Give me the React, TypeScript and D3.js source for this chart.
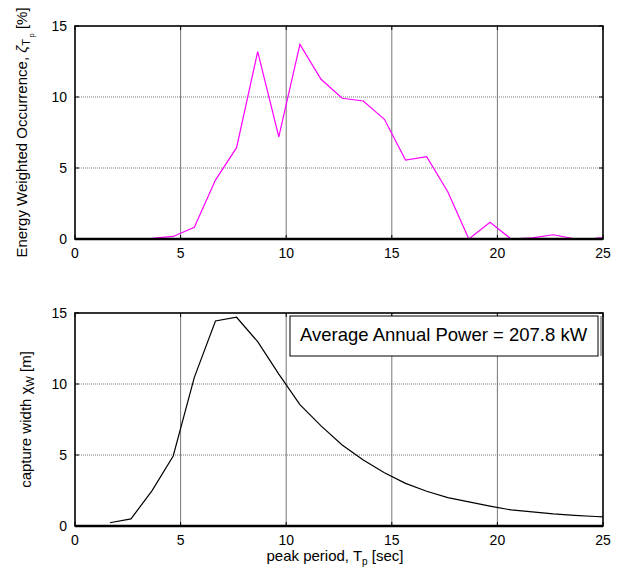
import * as d3 from 'd3';
import { useEffect, useRef } from 'react';

// peak period bins [s]
const periods = [
  1.65, 2.65, 3.65, 4.65, 5.65, 6.65, 7.65, 8.65, 9.65, 10.65, 11.65, 12.65, 13.65,
  14.65, 15.65, 16.65, 17.65, 18.65, 19.65, 20.65, 21.65, 22.65, 23.65, 24.65, 25.65,
];
// energy weighted occurrence [%]
const occurrence = [
  0, 0, 0.05, 0.18, 0.82, 4.15, 6.43, 13.19, 7.2, 13.71, 11.25, 9.91, 9.72, 8.43, 5.56,
  5.8, 3.33, 0, 1.17, 0, 0.08, 0.3, 0.02, 0.05, 0.2,
];
// capture width [m]
const captureWidth = [
  0.23, 0.5, 2.49, 4.93, 10.47, 14.44, 14.7, 12.98, 10.7, 8.55, 7.05, 5.7, 4.65, 3.75,
  3.0, 2.45, 2.0, 1.7, 1.4, 1.13, 1.0, 0.85, 0.75, 0.67, 0.6,
];
const xTicks = [0, 5, 10, 15, 20, 25];
const yTicks = [0, 5, 10, 15];
const powerLabel = 'Average Annual Power = 207.8 kW';

const W = 625;
const H = 570;
const FONT = '"Liberation Sans", Arial, sans-serif';

const drawPanel = (svg, top, bottom, values, color, id) => {
  const left = 75;
  const right = 603;
  const x = d3.scaleLinear().domain([0, 25]).range([left, right]);
  const y = d3.scaleLinear().domain([0, 15]).range([bottom, top]);
  const g = svg.append('g');

  g.append('clipPath')
    .attr('id', id)
    .append('rect')
    .attr('x', left)
    .attr('y', top)
    .attr('width', right - left)
    .attr('height', bottom - top);

  // grid
  g.selectAll('.hgrid')
    .data(yTicks.filter((t) => t > 0 && t < 15))
    .join('line')
    .attr('x1', left)
    .attr('x2', right)
    .attr('y1', (d) => y(d))
    .attr('y2', (d) => y(d))
    .attr('stroke', '#a8a8a8')
    .attr('stroke-width', 1.5)
    .attr('stroke-dasharray', '1,1');
  g.selectAll('.vgrid')
    .data(xTicks.filter((t) => t > 0 && t < 25))
    .join('line')
    .attr('x1', (d) => x(d))
    .attr('x2', (d) => x(d))
    .attr('y1', top)
    .attr('y2', bottom)
    .attr('stroke', '#666')
    .attr('stroke-width', 0.9);

  // ticks inside the box
  const tl = 4;
  xTicks.forEach((t) => {
    g.append('line').attr('x1', x(t)).attr('x2', x(t)).attr('y1', bottom).attr('y2', bottom - tl).attr('stroke', '#000');
    g.append('line').attr('x1', x(t)).attr('x2', x(t)).attr('y1', top).attr('y2', top + tl).attr('stroke', '#000');
  });
  yTicks.forEach((t) => {
    g.append('line').attr('x1', left).attr('x2', left + tl).attr('y1', y(t)).attr('y2', y(t)).attr('stroke', '#000');
    g.append('line').attr('x1', right).attr('x2', right - tl).attr('y1', y(t)).attr('y2', y(t)).attr('stroke', '#000');
  });

  const line = d3
    .line()
    .x((d, i) => x(periods[i]))
    .y((d) => y(d));

  g.append('path')
    .datum(values)
    .attr('clip-path', `url(#${id})`)
    .attr('d', line)
    .attr('fill', 'none')
    .attr('stroke', color)
    .attr('stroke-width', 1.2);

  // box
  g.append('rect')
    .attr('x', left)
    .attr('y', top)
    .attr('width', right - left)
    .attr('height', bottom - top)
    .attr('fill', 'none')
    .attr('stroke', '#000')
    .attr('stroke-width', 1.6);
  g.append('line')
    .attr('x1', left)
    .attr('x2', right)
    .attr('y1', bottom)
    .attr('y2', bottom)
    .attr('stroke', '#000')
    .attr('stroke-width', 2.5);

  // tick labels
  g.selectAll('.xlab')
    .data(xTicks)
    .join('text')
    .attr('x', (d) => x(d))
    .attr('y', bottom + 19)
    .attr('text-anchor', 'middle')
    .style('font-family', FONT)
    .style('font-size', '14px')
    .text((d) => d);
  g.selectAll('.ylab')
    .data(yTicks)
    .join('text')
    .attr('x', left - 8)
    .attr('y', (d) => y(d))
    .attr('dy', '0.36em')
    .attr('text-anchor', 'end')
    .style('font-family', FONT)
    .style('font-size', '14px')
    .text((d) => d);

  return { x, y, left, right };
};

const App = () => {
  const svgRef = useRef(null);

  useEffect(() => {
    const svg = d3.select(svgRef.current);
    svg.selectAll('*').remove();

    // top panel
    drawPanel(svg, 26, 239, occurrence, '#ff00ff', 'clipTop');
    const topLabel = svg
      .append('text')
      .attr('transform', `translate(27, ${(26 + 239) / 2}) rotate(-90)`)
      .attr('text-anchor', 'middle')
      .style('font-family', FONT)
      .style('font-size', '15px');
    topLabel.append('tspan').text('Energy Weighted Occurrence, ');
    topLabel.append('tspan').style('font-style', 'italic').text('ζ');
    topLabel.append('tspan').attr('dy', 3).style('font-size', '11px').text('T');
    topLabel.append('tspan').attr('dy', 4).style('font-size', '7px').text(' p');
    topLabel.append('tspan').attr('dy', -7).text('   [%]');

    // bottom panel
    drawPanel(svg, 313, 526, captureWidth, '#000', 'clipBottom');
    const botLabel = svg
      .append('text')
      .attr('transform', `translate(31, ${(313 + 526) / 2}) rotate(-90)`)
      .attr('text-anchor', 'middle')
      .style('font-family', FONT)
      .style('font-size', '15px');
    botLabel.append('tspan').text('capture width  ');
    botLabel.append('tspan').text('χ');
    botLabel.append('tspan').attr('dy', 3).style('font-size', '11px').text('W');
    botLabel.append('tspan').attr('dy', -3).text(' [m]');

    const xLabel = svg
      .append('text')
      .attr('x', 335)
      .attr('y', 561)
      .attr('text-anchor', 'middle')
      .style('font-family', FONT)
      .style('font-size', '15px');
    xLabel.append('tspan').text('peak period, T');
    xLabel.append('tspan').attr('dy', 4).style('font-size', '10px').text('p');
    xLabel.append('tspan').attr('dy', -4).text(' [sec]');

    // annotation box
    svg
      .append('rect')
      .attr('x', 290)
      .attr('y', 316)
      .attr('width', 308)
      .attr('height', 40)
      .attr('fill', '#fff')
      .attr('stroke', '#000')
      .attr('stroke-width', 1);
    svg
      .append('line')
      .attr('x1', 601)
      .attr('x2', 601)
      .attr('y1', 316)
      .attr('y2', 356)
      .attr('stroke', '#888')
      .attr('stroke-width', 1.5);
    svg
      .append('text')
      .attr('x', 300)
      .attr('y', 341)
      .style('font-family', FONT)
      .style('font-size', '18.5px')
      .text(powerLabel);
  }, []);

  return (
    <div style={{ position: 'fixed', left: 0, top: 0, background: '#fff' }}>
      <svg ref={svgRef} width={W} height={H} style={{ display: 'block' }}></svg>
    </div>
  );
};

export default App;
